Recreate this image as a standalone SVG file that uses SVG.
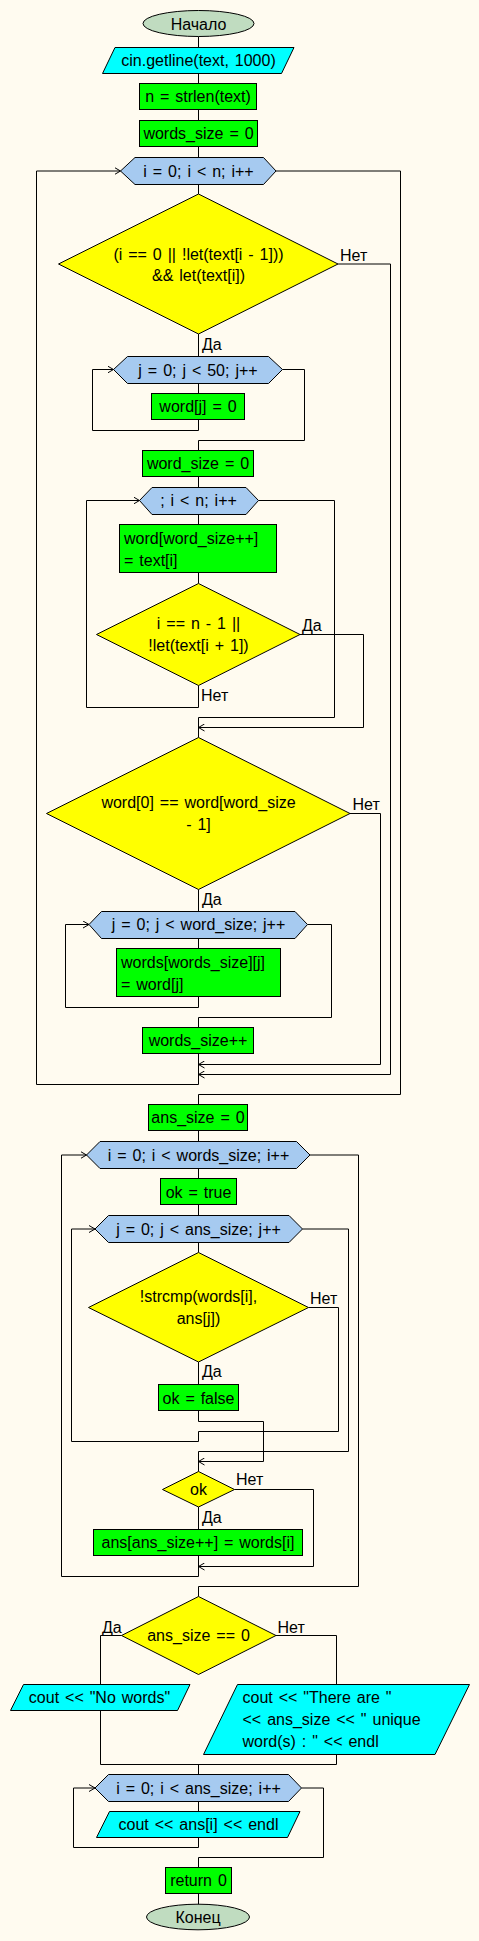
<svg xmlns="http://www.w3.org/2000/svg" width="479" height="1941" viewBox="0 0 479 1941">
<defs>
<marker id="arr" viewBox="0 0 6 8" refX="6" refY="4" markerWidth="6" markerHeight="8" markerUnits="userSpaceOnUse" orient="auto">
<path d="M0,0.5 L6,4 L0,7.5" fill="none" stroke="#000" stroke-width="1"/>
</marker>
</defs>
<style>
text{font-family:"Liberation Sans",Arial,sans-serif;font-size:16px;fill:#000;word-spacing:1.5px}
.c{text-anchor:middle}
.proc{fill:#00FF00;stroke:#000;stroke-width:1}
.io{fill:#00FFFF;stroke:#000;stroke-width:1}
.loop{fill:#A6CAF0;stroke:#000;stroke-width:1}
.dec{fill:#FFFF00;stroke:#000;stroke-width:1}
.term{fill:#C0DCC0;stroke:#000;stroke-width:1}
#connectors path{fill:none;stroke:#000;stroke-width:1}
.a{marker-end:url(#arr)}
</style>
<rect x="0" y="0" width="479" height="1941" fill="#FFFBF0"/>
<g id="connectors">
<path d="M198.5,36.5 V47.5 M198.5,73.5 V83.5 M198.5,109.5 V120.5 M198.5,146.5 V157.5 M198.5,184.5 V194"/>
<path d="M338,264 H390.5 V1074.5 H198.5" class="a"/>
<path d="M198.5,334 V356.5 M198.5,383.5 V393.5"/>
<path d="M198.5,419.5 V430.5 H92.5 V369.5 H113.5" class="a"/>
<path d="M282.5,369.5 H304.5 V440.5 H198.5 V450.5 M198.5,476.5 V487.5 M198.5,514.5 V524.5 M198.5,572.5 V583.5"/>
<path d="M300,634.5 H363.5 V727.5 H198.5" class="a"/>
<path d="M198.5,685.5 V707.5 H86.5 V500.5 H139.5" class="a"/>
<path d="M258.5,500.5 H334.5 V717.5 H198.5 V737.5"/>
<path d="M350,813.5 H380.5 V1064.5 H198.5" class="a"/>
<path d="M198.5,889.5 V911.5 M198.5,938.5 V948.5"/>
<path d="M198.5,996.5 V1007.5 H65.5 V924.5 H89" class="a"/>
<path d="M307.5,924.5 H331.5 V1017.5 H198.5 V1027.5 M198.5,1053.5 V1084.5"/>
<path d="M198.5,1084.5 H36.5 V171 H120.5" class="a"/>
<path d="M276,171 H400.5 V1094.5 H198.5 V1104.5 M198.5,1130.5 V1141.5 M198.5,1168.5 V1178.5 M198.5,1204.5 V1215.5 M198.5,1242.5 V1252.5"/>
<path d="M308.5,1307.5 H338.5 V1431.5 H198.5 V1441.5"/>
<path d="M198.5,1362 V1384.5"/>
<path d="M198.5,1410.5 V1421.5 H263.5 V1461.5 H198.5" class="a"/>
<path d="M198.5,1441.5 H71.5 V1229 H95" class="a"/>
<path d="M302.5,1229 H348.5 V1451.5 H198.5 V1471.5"/>
<path d="M234.5,1489.5 H313.5 V1566.5 H198.5" class="a"/>
<path d="M198.5,1507 V1529.5"/>
<path d="M198.5,1555.5 V1576.5 H61.5 V1155 H86.5" class="a"/>
<path d="M310,1155 H358.5 V1586.5 H198.5 V1596.5"/>
<path d="M121.5,1635.5 H100.5 V1684.5 M276,1635.5 H336.5 V1684.5"/>
<path d="M100.5,1710.5 V1764.5 H336.5 V1754.5 M198.5,1764.5 V1774.5 M198.5,1801.5 V1811.5"/>
<path d="M198.5,1837.5 V1847.5 H73.5 V1788 H95" class="a"/>
<path d="M301.5,1788 H323.5 V1857.5 H198.5 V1867.5 M198.5,1893.5 V1904.5"/>
</g>
<g id="start"><ellipse class="term" cx="198.5" cy="23.5" rx="55.5" ry="13"/><text class="c" x="198.5" y="29.5">Начало</text></g>
<g id="input"><polygon class="io" points="115,47.5 294,47.5 281.5,73.5 102.5,73.5"/><text class="c" x="198.5" y="66">cin.getline(text, 1000)</text></g>
<g id="n_strlen"><rect class="proc" x="139.5" y="83.5" width="117" height="26"/><text class="c" x="198" y="102">n = strlen(text)</text></g>
<g id="words_size0"><rect class="proc" x="139.5" y="120.5" width="118" height="26"/><text class="c" x="198.5" y="139">words_size = 0</text></g>
<g id="loop_i"><polygon class="loop" points="120.5,171 135,157.5 263.5,157.5 276,171 263.5,184.5 135,184.5"/><text class="c" x="198.5" y="176.5">i = 0; i &lt; n; i++</text></g>
<g id="cond1"><polygon class="dec" points="198.5,194 338,264 198.5,334 58.5,264"/><text class="c" x="198.5" y="259.5">(i == 0 || !let(text[i - 1]))</text><text class="c" x="198.5" y="281">&amp;&amp; let(text[i])</text><text x="340" y="260.5">Нет</text><text x="202" y="350">Да</text></g>
<g id="loop_j50"><polygon class="loop" points="113.5,369.5 127.5,356.5 268.5,356.5 282.5,369.5 268.5,383.5 127.5,383.5"/><text class="c" x="198" y="375.5">j = 0; j &lt; 50; j++</text></g>
<g id="word_j0"><rect class="proc" x="151.5" y="393.5" width="93" height="26"/><text class="c" x="198" y="412">word[j] = 0</text></g>
<g id="word_size0"><rect class="proc" x="142.5" y="450.5" width="111" height="26"/><text class="c" x="198" y="469">word_size = 0</text></g>
<g id="loop_in"><polygon class="loop" points="139.5,500.5 152,487.5 246,487.5 258.5,500.5 246,514.5 152,514.5"/><text class="c" x="198.5" y="506">; i &lt; n; i++</text></g>
<g id="word_assign"><rect class="proc" x="119.5" y="524.5" width="157" height="48"/><text x="124" y="543.5">word[word_size++]</text><text x="124" y="565.5">= text[i]</text></g>
<g id="cond2"><polygon class="dec" points="198.5,583.5 300,634.5 198.5,685.5 96.5,634.5"/><text class="c" x="198.5" y="629">i == n - 1 ||</text><text class="c" x="198.5" y="651">!let(text[i + 1])</text><text x="302" y="631">Да</text><text x="201" y="701">Нет</text></g>
<g id="cond3"><polygon class="dec" points="198.5,737.5 350,813.5 198.5,889.5 46.5,813.5"/><text class="c" x="198.5" y="807.5">word[0] == word[word_size</text><text class="c" x="198.5" y="830">- 1]</text><text x="352.5" y="810">Нет</text><text x="202" y="905">Да</text></g>
<g id="loop_jws"><polygon class="loop" points="89,924.5 101.5,911.5 295,911.5 307.5,924.5 295,938.5 101.5,938.5"/><text class="c" x="198.5" y="930">j = 0; j &lt; word_size; j++</text></g>
<g id="words_assign"><rect class="proc" x="116.5" y="948.5" width="164" height="48"/><text x="121" y="967.5">words[words_size][j]</text><text x="121" y="989.5">= word[j]</text></g>
<g id="words_inc"><rect class="proc" x="142.5" y="1027.5" width="111" height="26"/><text class="c" x="198" y="1045.5">words_size++</text></g>
<g id="ans_size0"><rect class="proc" x="148.5" y="1104.5" width="99" height="26"/><text class="c" x="198" y="1123">ans_size = 0</text></g>
<g id="loop_iws"><polygon class="loop" points="86.5,1155 100,1141.5 296.5,1141.5 310,1155 296.5,1168.5 100,1168.5"/><text class="c" x="198.5" y="1160.5">i = 0; i &lt; words_size; i++</text></g>
<g id="ok_true"><rect class="proc" x="160.5" y="1178.5" width="76" height="26"/><text class="c" x="198.5" y="1197.5">ok = true</text></g>
<g id="loop_jas"><polygon class="loop" points="95,1229 108.5,1215.5 289,1215.5 302.5,1229 289,1242.5 108.5,1242.5"/><text class="c" x="198.5" y="1235">j = 0; j &lt; ans_size; j++</text></g>
<g id="cond4"><polygon class="dec" points="198.5,1252.5 308.5,1307.5 198.5,1362 88.5,1307.5"/><text class="c" x="198.5" y="1301.5">!strcmp(words[i],</text><text class="c" x="198.5" y="1324">ans[j])</text><text x="310" y="1304">Нет</text><text x="202" y="1377">Да</text></g>
<g id="ok_false"><rect class="proc" x="158.5" y="1384.5" width="80" height="26"/><text class="c" x="198.5" y="1403.5">ok = false</text></g>
<g id="cond_ok"><polygon class="dec" points="198.5,1471.5 234.5,1489.5 198.5,1507 162.5,1489.5"/><text class="c" x="198.5" y="1494.5">ok</text><text x="236" y="1485">Нет</text><text x="202" y="1522.5">Да</text></g>
<g id="ans_add"><rect class="proc" x="93.5" y="1529.5" width="209" height="26"/><text class="c" x="198" y="1548">ans[ans_size++] = words[i]</text></g>
<g id="cond5"><polygon class="dec" points="198.5,1596.5 276,1635.5 198.5,1674.5 121.5,1635.5"/><text class="c" x="198.5" y="1641">ans_size == 0</text><text x="102" y="1632.5">Да</text><text x="277.5" y="1632.5">Нет</text></g>
<g id="out_nowords"><polygon class="io" points="23.5,1684.5 190,1684.5 177.5,1710.5 10.5,1710.5"/><text class="c" x="99.5" y="1702.5">cout &lt;&lt; "No words"</text></g>
<g id="out_count"><polygon class="io" points="237.5,1684.5 469.5,1684.5 435,1754.5 203.5,1754.5"/><text x="242.5" y="1702.5">cout &lt;&lt; "There are "</text><text x="242.5" y="1724.5">&lt;&lt; ans_size &lt;&lt; " unique</text><text x="242.5" y="1746.5">word(s) : " &lt;&lt; endl</text></g>
<g id="loop_ias"><polygon class="loop" points="95,1788 108.5,1774.5 288.5,1774.5 301.5,1788 288.5,1801.5 108.5,1801.5"/><text class="c" x="198.5" y="1793.5">i = 0; i &lt; ans_size; i++</text></g>
<g id="out_ans"><polygon class="io" points="109.5,1811.5 300,1811.5 287.5,1837.5 96.5,1837.5"/><text class="c" x="198.5" y="1830">cout &lt;&lt; ans[i] &lt;&lt; endl</text></g>
<g id="return0"><rect class="proc" x="165.5" y="1867.5" width="66" height="26"/><text class="c" x="198.5" y="1886">return 0</text></g>
<g id="end"><ellipse class="term" cx="198" cy="1917" rx="51.5" ry="12.8"/><text class="c" x="198" y="1923">Конец</text></g>
</svg>
